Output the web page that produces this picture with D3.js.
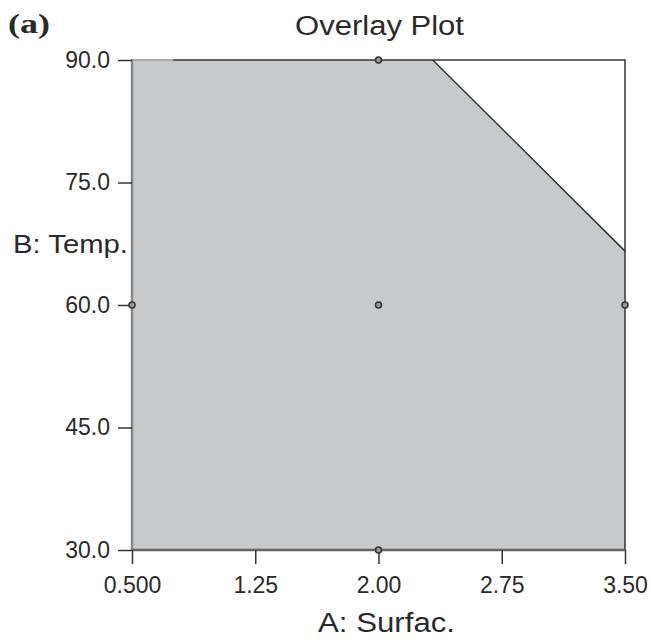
<!DOCTYPE html>
<html>
<head>
<meta charset="utf-8">
<script src="https://d3js.org/d3.v7.min.js"></script>
<style>
  body { margin: 0; background: #fff; }
  text { font-family: "Liberation Sans", Arial, sans-serif; fill: #2a2a2a; }
</style>
</head>
<body>
<div id="chart"></div>
<script>
// Data
const xTicks = [0.5, 1.25, 2.0, 2.75, 3.5];
const xTickLabels = ["0.500", "1.25", "2.00", "2.75", "3.50"];
const yTicks = [30, 45, 60, 75, 90];
const yTickLabels = ["30.0", "45.0", "60.0", "75.0", "90.0"];

// design points
const designPoints = [
    { a: 2.0, b: 90 },
    { a: 0.5, b: 60 },
    { a: 2.0, b: 60 },
    { a: 3.5, b: 60 },
    { a: 2.0, b: 30 }
];

// feasible (shaded) region boundary
const regionA = [0.5, 2.33, 3.5, 3.5, 0.5];
const regionB = [90, 90, 66.6, 30, 30];

const margin = { top: 60, right: 26, bottom: 90, left: 132 },
    width = 651 - margin.left - margin.right,
    height = 640 - margin.top - margin.bottom;

const svg = d3.select("#chart")
    .append("svg")
    .attr("width", 651)
    .attr("height", 640);

const g = svg.append("g")
    .attr("transform", `translate(${margin.left},${margin.top})`);

const x = d3.scaleLinear().domain([0.5, 3.5]).range([0, width]);
const y = d3.scaleLinear().domain([30, 90]).range([height, 0]);

// shaded region
const region = regionA.map((a, i) => [x(a), y(regionB[i])]);
g.append("path")
    .attr("d", d3.line()(region) + "Z")
    .attr("fill", "#c8c9cb");

// plot frame
g.append("rect")
    .attr("width", width)
    .attr("height", height)
    .attr("fill", "none")
    .attr("stroke", "#333")
    .attr("stroke-width", 1.5);

// constraint edge
g.append("path")
    .attr("d", d3.line()([region[1], region[2]]))
    .attr("stroke", "#333")
    .attr("stroke-width", 1.5);

// left/bottom axis lines, and lighter top-left stretch of the frame
g.append("line")
    .attr("x1", 0).attr("x2", x(0.75))
    .attr("y1", 0).attr("y2", 0)
    .attr("stroke", "#aaa").attr("stroke-width", 2);
g.append("line")
    .attr("x1", 0).attr("x2", 0)
    .attr("y1", 0).attr("y2", height)
    .attr("stroke", "#888").attr("stroke-width", 2.5);
g.append("line")
    .attr("x1", 0).attr("x2", width)
    .attr("y1", height).attr("y2", height)
    .attr("stroke", "#666").attr("stroke-width", 2.5);

// axes
const xAxis = d3.axisBottom(x)
    .tickValues(xTicks)
    .tickFormat((d, i) => xTickLabels[i])
    .tickSize(14)
    .tickPadding(13);
const yAxis = d3.axisLeft(y)
    .tickValues(yTicks)
    .tickFormat((d, i) => yTickLabels[i])
    .tickSize(14)
    .tickPadding(8);

const gx = g.append("g")
    .attr("transform", `translate(0,${height})`)
    .call(xAxis);
const gy = g.append("g").call(yAxis);

[gx, gy].forEach(a => {
    a.select(".domain").remove();
    a.selectAll(".tick line").attr("stroke", "#333").attr("stroke-width", 1.5);
    a.selectAll(".tick text")
        .attr("fill", "#2a2a2a")
        .style("font-family", "'Liberation Sans', Arial, sans-serif")
        .style("font-size", "23px");
});
// x ticks only hang below the axis line, keep them short like the picture
gx.selectAll(".tick line").attr("y1", 0).attr("y2", 14);

// design points
g.selectAll(".pt")
    .data(designPoints)
    .enter()
    .append("circle")
    .attr("class", "pt")
    .attr("cx", d => x(d.a))
    .attr("cy", d => y(d.b))
    .attr("r", 3)
    .attr("fill", "#999")
    .attr("stroke", "#333")
    .attr("stroke-width", 1.5);

// labels
svg.append("text")
    .attr("x", 8)
    .attr("y", 33)
    .attr("textLength", 42)
    .attr("lengthAdjust", "spacingAndGlyphs")
    .style("font-family", "'Liberation Serif', 'Times New Roman', serif")
    .style("font-weight", "bold")
    .style("font-size", "27px")
    .text("(a)");

svg.append("text")
    .attr("x", 295)
    .attr("y", 35)
    .attr("textLength", 169)
    .attr("lengthAdjust", "spacingAndGlyphs")
    .style("font-size", "27px")
    .text("Overlay Plot");

svg.append("text")
    .attr("x", 13)
    .attr("y", 253)
    .attr("textLength", 115)
    .attr("lengthAdjust", "spacingAndGlyphs")
    .style("font-size", "25px")
    .text("B: Temp.");

svg.append("text")
    .attr("x", 318)
    .attr("y", 632)
    .attr("textLength", 137)
    .attr("lengthAdjust", "spacingAndGlyphs")
    .style("font-size", "27px")
    .text("A: Surfac.");
</script>
</body>
</html>
